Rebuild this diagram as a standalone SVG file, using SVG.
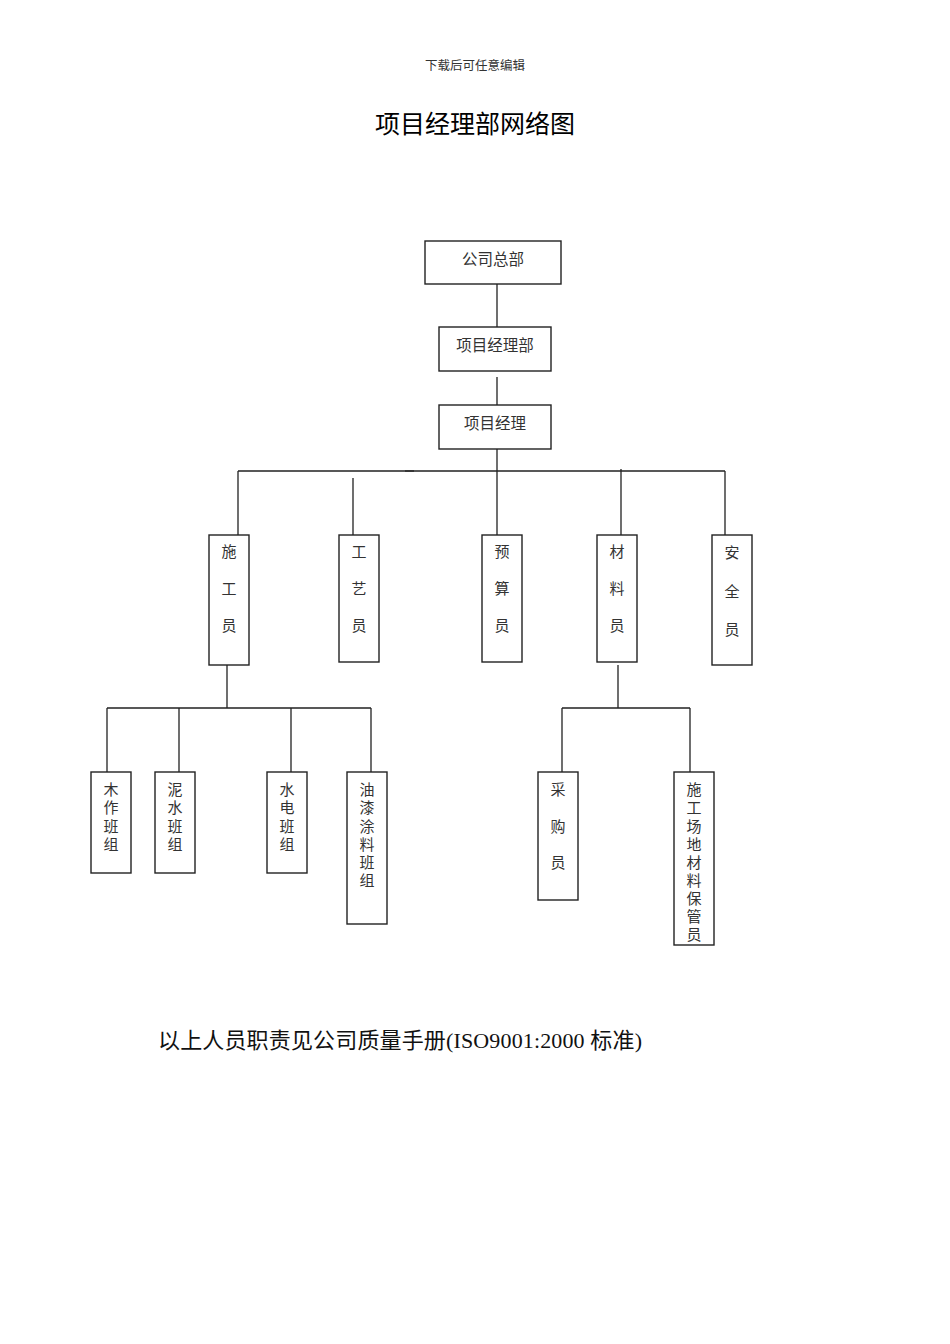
<svg xmlns="http://www.w3.org/2000/svg" width="950" height="1344" viewBox="0 0 950 1344">
<style>
.bx{fill:#fff;stroke:#222;stroke-width:1.4}
.ln{fill:none;stroke:#222;stroke-width:1.3}
.t{font-family:"Liberation Serif","Noto Sans CJK SC",serif;font-size:15.5px;fill:#333;text-anchor:middle}
.v{font-family:"Liberation Serif","Noto Sans CJK SC",serif;font-size:15px;fill:#333;text-anchor:middle}
</style>
<rect width="950" height="1344" fill="#fff"/>
<text x="475" y="70" font-family="'Noto Sans CJK SC',sans-serif" font-size="12.5" fill="#333" text-anchor="middle">下载后可任意编辑</text>
<text x="475" y="133" font-family="'Noto Sans CJK SC',sans-serif" font-size="25" fill="#000" text-anchor="middle">项目经理部网络图</text>
<g id="connectors">
<path class="ln" d="M497 284V327M497 377V405M497 449V535M238 471H725M238 471V535M353 478V535M621 469V535M725 471V535"/>
<path class="ln" stroke-width="2.5" d="M405 471H414"/>
<path class="ln" d="M227 665V708M107 708H371M107 708V772M179 708V772M291 708V772M371 708V772"/>
<path class="ln" d="M618 665V708M562 708H690M562 708V772M690 708V772"/>
</g>
<g id="n1"><rect class="bx" x="425" y="241" width="136" height="43"/><text class="t" x="493" y="265">公司总部</text></g>
<g id="n2"><rect class="bx" x="439" y="327" width="112" height="44"/><text class="t" x="495" y="351">项目经理部</text></g>
<g id="n3"><rect class="bx" x="439" y="405" width="112" height="44"/><text class="t" x="495" y="429">项目经理</text></g>
<g id="n4"><rect class="bx" x="209" y="535" width="40" height="130"/><text class="v" x="229" y="557">施</text><text class="v" x="229" y="594">工</text><text class="v" x="229" y="631">员</text></g>
<g id="n5"><rect class="bx" x="339" y="535" width="40" height="127"/><text class="v" x="359" y="557">工</text><text class="v" x="359" y="594">艺</text><text class="v" x="359" y="631">员</text></g>
<g id="n6"><rect class="bx" x="482" y="535" width="40" height="127"/><text class="v" x="502" y="557">预</text><text class="v" x="502" y="594">算</text><text class="v" x="502" y="631">员</text></g>
<g id="n7"><rect class="bx" x="597" y="535" width="40" height="127"/><text class="v" x="617" y="557">材</text><text class="v" x="617" y="594">料</text><text class="v" x="617" y="631">员</text></g>
<g id="n8"><rect class="bx" x="712" y="535" width="40" height="130"/><text class="v" x="732" y="558">安</text><text class="v" x="732" y="597">全</text><text class="v" x="732" y="635">员</text></g>
<g id="n9"><rect class="bx" x="91" y="772" width="40" height="101"/><text class="v" x="111" y="795">木</text><text class="v" x="111" y="813">作</text><text class="v" x="111" y="832">班</text><text class="v" x="111" y="850">组</text></g>
<g id="n10"><rect class="bx" x="155" y="772" width="40" height="101"/><text class="v" x="175" y="795">泥</text><text class="v" x="175" y="813">水</text><text class="v" x="175" y="832">班</text><text class="v" x="175" y="850">组</text></g>
<g id="n11"><rect class="bx" x="267" y="772" width="40" height="101"/><text class="v" x="287" y="795">水</text><text class="v" x="287" y="813">电</text><text class="v" x="287" y="832">班</text><text class="v" x="287" y="850">组</text></g>
<g id="n12"><rect class="bx" x="347" y="772" width="40" height="152"/><text class="v" x="367" y="795">油</text><text class="v" x="367" y="813">漆</text><text class="v" x="367" y="832">涂</text><text class="v" x="367" y="850">料</text><text class="v" x="367" y="868">班</text><text class="v" x="367" y="886">组</text></g>
<g id="n13"><rect class="bx" x="538" y="772" width="40" height="128"/><text class="v" x="558" y="795">采</text><text class="v" x="558" y="832">购</text><text class="v" x="558" y="868">员</text></g>
<g id="n14"><rect class="bx" x="674" y="772" width="40" height="173"/><text class="v" x="694" y="795">施</text><text class="v" x="694" y="813">工</text><text class="v" x="694" y="832">场</text><text class="v" x="694" y="850">地</text><text class="v" x="694" y="868">材</text><text class="v" x="694" y="886">料</text><text class="v" x="694" y="904">保</text><text class="v" x="694" y="922">管</text><text class="v" x="694" y="940">员</text></g>
<text x="158" y="1048" font-family="'Liberation Serif','Noto Sans CJK SC',serif" font-size="22" fill="#111" textLength="484" lengthAdjust="spacing">以上人员职责见公司质量手册(ISO9001:2000 标准)</text>
</svg>
